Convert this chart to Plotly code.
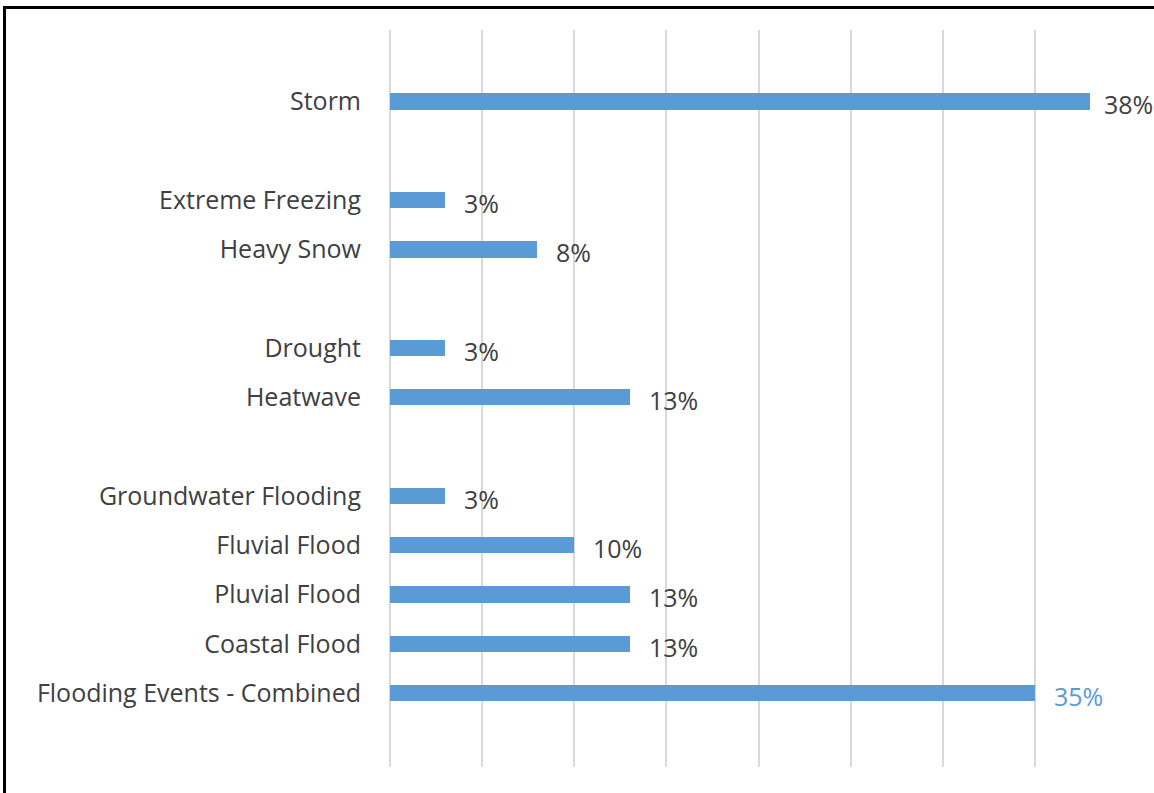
import plotly.graph_objects as go

# Data (top to bottom in the chart; empty strings are spacer rows)
categories = ["Storm", "", "Extreme Freezing", "Heavy Snow", "", "Drought", "Heatwave", "",
              "Groundwater Flooding", "Fluvial Flood", "Pluvial Flood", "Coastal Flood",
              "Flooding Events - Combined"]
values = [38, None, 3, 8, None, 3, 13, None, 3, 10, 13, 13, 35]
label_colors = ["#404040", None, "#404040", "#404040", None, "#404040", "#404040", None,
                "#404040", "#404040", "#404040", "#404040", "#5B9BD5"]

n = len(categories)
ypos = [n - 1 - i for i in range(n)]

bar_y = [y for y, v in zip(ypos, values) if v is not None]
bar_x = [v for v in values if v is not None]

FONT = "Open Sans, sans-serif"
W, H = 1154, 793
plot_left, plot_right, plot_top, plot_bottom = 390, 1127, 30, 767
X_MAX = 40
LABEL_W = 50  # approx pixel width of a label like "38%"

fig = go.Figure()
fig.add_trace(go.Bar(
    x=bar_x, y=bar_y, orientation="h", width=0.33,
    marker=dict(color="#5B9BD5", line=dict(width=0)),
    hoverinfo="skip",
))

annotations = []
for y, v, c in zip(ypos, values, label_colors):
    if v is None:
        continue
    end_px = plot_left + v / X_MAX * (plot_right - plot_left)
    shift = min(17, W - 2 - LABEL_W - end_px)  # keep label inside the page
    annotations.append(dict(
        x=v, y=y, xref="x", yref="y", text=f"{v}%", showarrow=False,
        xanchor="left", yanchor="middle", xshift=shift, yshift=-3,
        font=dict(family=FONT, size=25, color=c),
    ))

fig.update_layout(
    width=W, height=H,
    margin=dict(l=0, r=0, t=0, b=0),
    paper_bgcolor="white", plot_bgcolor="white",
    showlegend=False,
    bargap=0,
    annotations=annotations,
    font=dict(family=FONT, color="#404040"),
    xaxis=dict(
        domain=[plot_left / W, plot_right / W],
        range=[0, X_MAX], dtick=5, showticklabels=False,
        showgrid=True, gridcolor="#D9D9D9", gridwidth=2,
        zeroline=True, zerolinecolor="#D9D9D9", zerolinewidth=2,
        showline=False, fixedrange=True,
    ),
    yaxis=dict(
        domain=[1 - plot_bottom / H, 1 - plot_top / H],
        range=[-1.5, 13.45],
        tickmode="array",
        tickvals=[y for y, c in zip(ypos, categories) if c],
        ticktext=[c for c in categories if c],
        showgrid=False, zeroline=False, showline=False,
        ticks="", ticklabelstandoff=28,
        tickfont=dict(family=FONT, size=25, color="#404040"),
        fixedrange=True,
    ),
    shapes=[dict(
        type="rect", xref="paper", yref="paper",
        x0=4.5 / W, x1=1.02, y0=-0.02, y1=1 - 7.5 / H,
        line=dict(color="black", width=3), fillcolor="rgba(0,0,0,0)", layer="above",
    )],
)

fig.write_html("out.html")
